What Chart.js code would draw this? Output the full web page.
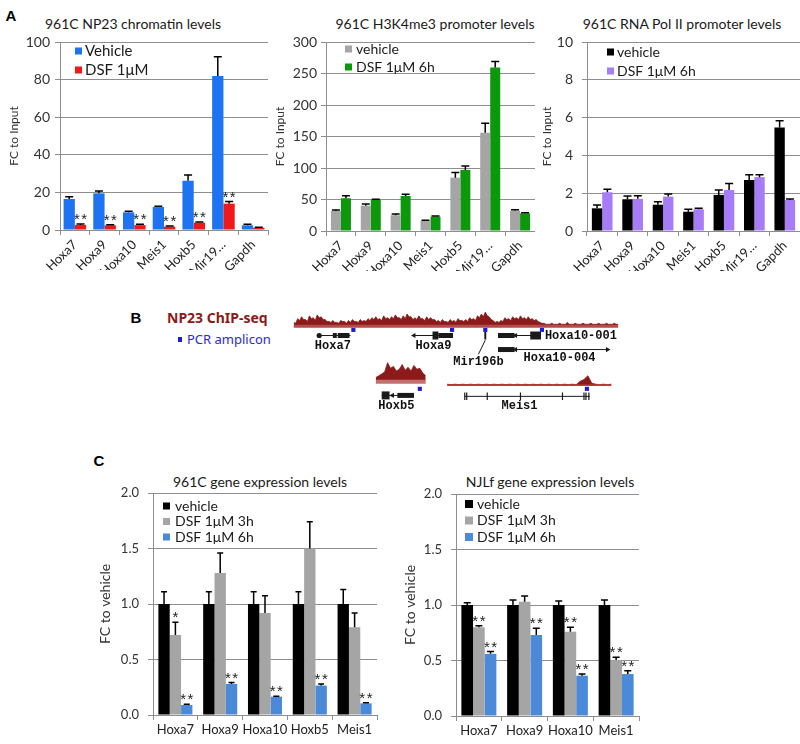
<!DOCTYPE html>
<html><head><meta charset="utf-8">
<script src="https://cdn.jsdelivr.net/npm/chart.js@4.4.1/dist/chart.umd.min.js"></script>
<style>
html,body{margin:0;padding:0;background:#fff;}
#stage{position:relative;width:800px;height:744px;overflow:hidden;font-family:Lato,"Open Sans",sans-serif;}
canvas{position:absolute;}
.t{position:absolute;white-space:nowrap;color:#1a1a1a;line-height:1;transform:translate(-50%,-50%);}
.lab{position:absolute;font:bold 15px "Liberation Sans",Arial,sans-serif;color:#000;line-height:1;transform:translate(-50%,-50%);}
</style></head>
<body><div id="stage">
<div class="lab" style="left:11px;top:15px">A</div>
<div class="lab" style="left:136px;top:317px">B</div>
<div class="lab" style="left:99px;top:460px">C</div>
<div class="t" style="left:133px;top:24px;font-size:14px">961C NP23 chromatin levels</div>
<div class="t" style="left:435px;top:24px;font-size:14px">961C H3K4me3 promoter levels</div>
<div class="t" style="left:682px;top:24px;font-size:14px">961C RNA Pol II promoter levels</div>
<div class="t" style="left:260px;top:482px;font-size:14px">961C gene expression levels</div>
<div class="t" style="left:550px;top:482px;font-size:14px">NJLf gene expression levels</div>
<div style="position:absolute;left:167px;top:309px;font:bold 14px 'Noto Sans',sans-serif;color:#8c1a1a;line-height:18px;white-space:nowrap">NP23 ChIP-seq</div>
<div style="position:absolute;left:178px;top:337px;width:4px;height:5px;background:#1a1ae0"></div>
<div style="position:absolute;left:187px;top:331px;font:13px 'Noto Sans',sans-serif;color:#2a2ad8;line-height:16px;white-space:nowrap">PCR amplicon</div>

<canvas id="a1" width="270" height="270" style="left:0px;top:0px"></canvas>
<canvas id="a2" width="265" height="271" style="left:270px;top:0px"></canvas>
<canvas id="a3" width="265" height="271" style="left:535px;top:0px"></canvas>
<canvas id="b" width="350" height="125" style="left:280px;top:295px"></canvas>
<canvas id="c1" width="285" height="284" style="left:95px;top:460px"></canvas>
<canvas id="c2" width="242" height="284" style="left:400px;top:460px"></canvas>
</div>
<script>
// ================= DATA =================
// Panel A: ChIP-qPCR, fold change to input
const chipGenes = ['Hoxa7','Hoxa9','Hoxa10','Meis1','Hoxb5','Mir19…','Gapdh'];

const np23Vehicle    = [16.5, 19.5, 9.4, 12.2, 26.2, 81.9, 2.5];
const np23VehicleErr = [1.2, 1.2, 0.6, 0.4, 3.1, 10.3, 0.5];
const np23Dsf        = [2.7, 2.5, 2.6, 1.8, 3.9, 14.0, 1.2];
const np23DsfErr     = [0.5, 0.3, 0.5, 0.3, 0.4, 1.1, 0.2];
const np23DsfSig     = ['**','**','**','**','**','**',''];

const k4Vehicle    = [31.8, 40.2, 25.0, 15.9, 84.7, 156.0, 32.3];
const k4VehicleErr = [1.6, 2.8, 2.0, 1.0, 8.0, 15.0, 1.6];
const k4Dsf        = [52.0, 49.3, 55.6, 22.7, 97.0, 259.6, 28.0];
const k4DsfErr     = [4.0, 1.1, 2.7, 1.1, 6.0, 9.5, 1.0];

const polVehicle    = [1.20, 1.68, 1.39, 1.02, 1.91, 2.70, 5.47];
const polVehicleErr = [0.17, 0.17, 0.16, 0.13, 0.26, 0.27, 0.36];
const polDsf        = [2.05, 1.70, 1.82, 1.15, 2.17, 2.85, 1.64];
const polDsfErr     = [0.16, 0.17, 0.14, 0.05, 0.34, 0.12, 0.05];

// Panel C: gene expression, fold change to vehicle
const genes961 = ['Hoxa7','Hoxa9','Hoxa10','Hoxb5','Meis1'];
const c961Vehicle    = [1, 1, 1, 1, 1];
const c961VehicleErr = [0.11, 0.11, 0.11, 0.11, 0.13];
const c961Dsf3h      = [0.72, 1.28, 0.92, 1.50, 0.79];
const c961Dsf3hErr   = [0.115, 0.18, 0.155, 0.24, 0.13];
const c961Dsf3hSig   = ['*','','','',''];
const c961Dsf6h      = [0.09, 0.28, 0.165, 0.265, 0.105];
const c961Dsf6hErr   = [0.006, 0.012, 0.005, 0.015, 0.005];
const c961Dsf6hSig   = ['**','**','**','**','**'];

const genesNJL = ['Hoxa7','Hoxa9','Hoxa10','Meis1'];
const njlVehicle    = [1, 1, 1, 1];
const njlVehicleErr = [0.02, 0.045, 0.036, 0.045];
const njlDsf3h      = [0.80, 1.03, 0.76, 0.505];
const njlDsf3hErr   = [0.012, 0.05, 0.04, 0.024];
const njlDsf3hSig   = ['**','','**','**'];
const njlDsf6h      = [0.56, 0.73, 0.363, 0.378];
const njlDsf6hErr   = [0.02, 0.06, 0.015, 0.03];
const njlDsf6hSig   = ['**','**','**','**'];

// Panel B: NP23 ChIP-seq signal (a.u.) along each locus, and gene models (locus coordinates)
const hoxaSignal = [
  3,2, 7,5, 9,6, 6,4, 10,7, 8,5, 11,8, 9,6, 6,4, 4,3,
  5,3, 3,2, 5,4, 4,2, 5,3, 6,4, 4,3, 6,4, 5,4, 7,5,
  8,6, 9,6, 7,5, 10,7, 8,6, 9,7, 11,8, 8,6, 10,7, 12,9,
  9,6, 8,6, 10,7, 7,5, 9,6, 8,6, 6,4, 5,3, 6,4, 4,3,
  6,4, 5,3, 7,5, 5,4, 6,4, 8,6, 7,5, 10,8, 12,9, 14,10,
  9,6, 5,3, 4,3, 5,4, 8,6, 7,5, 9,7, 8,6, 10,7, 8,6,
  9,6, 7,5, 6,4, 3,2, 2,1, 1,1, 2,1, 1,1, 2,1, 1,1,
  3,1, 1,1, 2,1, 1,1, 2,1, 1,1, 2,1, 1,1, 2,1, 1,1,
  2,1, 1,1, 2,1, 1];
const hoxbSignal = [3,5,7,9,19,13,15,10,12,17,11,14,10,16,12,13,8,5];
const meisSignal = [1,0.5,1,0.5,1,0.5,1,0.5,1,0.5, 1,0.5,1,0.5,1,0.5,1,0.5,1,0.5,
  1,0.5,1,0.5,1,0.5,1,0.5,1,0.5, 1,0.5,1,0.5,4,6,10,2,1,0.5, 1,0.5,1];
const hoxaAmplicons = [61, 162, 196, 254];
const hoxbAmplicons = [45];
const meisAmplicons = [143];
const hoxaGenes = [
  {name:'Hoxa7',      row:0, span:[26,58],  exons:[[40,44],[45,57]], tall:[],        dot:26},
  {name:'Hoxa9',      row:0, span:[123,163],exons:[[148,163]],       tall:[[142,148]], left:[123]},
  {name:'Mir196b',    row:0, span:null,     exons:[],                tall:[[195,197]]},
  {name:'Hoxa10-001', row:0, span:[209,253],exons:[[209,226]],       tall:[[242,253]], left:[227]},
  {name:'Hoxa10-004', row:1, span:[209,323],exons:[[209,226]],       tall:[],          left:[227], right:[321]}
];
const hoxbGenes = [
  {name:'Hoxb5', row:0, span:[6,39], exons:[[22,39]], tall:[[6,14]], left:[17]}
];
const meisGenes = [
  {name:'Meis1', row:0, span:[18,146], exons:[], tall:[], ticks:[18,20,41,75,118,140,142,145]}
];

// ================= STYLE / LAYOUT =================
Chart.defaults.font.family = 'Lato, "Open Sans", sans-serif';
Chart.defaults.color = '#333';
const AXIS = '#8e8e8e';

const annot = {
  id: 'annot',
  afterDatasetsDraw(chart, args, o) {
    const ctx = chart.ctx, ys = chart.scales.y, ca = chart.chartArea;
    chart.data.datasets.forEach((ds, di) => {
      const meta = chart.getDatasetMeta(di);
      meta.data.forEach((bar, i) => {
        const v = ds.data[i], e = ds.errors ? ds.errors[i] : 0;
        const top = ys.getPixelForValue(v + e);
        if (e > 0) {
          ctx.save(); ctx.strokeStyle = '#000'; ctx.lineWidth = o.errWidth;
          ctx.beginPath(); ctx.moveTo(bar.x, bar.y); ctx.lineTo(bar.x, top);
          ctx.moveTo(bar.x - o.cap / 2, top); ctx.lineTo(bar.x + o.cap / 2, top);
          ctx.stroke(); ctx.restore();
        }
        const s = ds.sig && ds.sig[i];
        if (s) {
          ctx.save(); ctx.font = o.starFont; ctx.fillStyle = '#222';
          ctx.textAlign = 'center'; ctx.textBaseline = 'alphabetic';
          ctx.letterSpacing = '1.5px';
          ctx.fillText(s, bar.x + 0.75, top + o.starDy); ctx.restore();
        }
      });
    });
    const L = o.legend;
    ctx.save();
    chart.data.datasets.forEach((ds, di) => {
      const ly = ca.top + L.y0 + di * L.dy, lx = ca.left + L.x0;
      ctx.fillStyle = ds.backgroundColor;
      ctx.fillRect(lx, ly - L.box / 2, L.box, L.box);
      ctx.fillStyle = '#1a1a1a'; ctx.font = L.font;
      ctx.textBaseline = 'middle'; ctx.textAlign = 'left';
      ctx.fillText(ds.label, lx + L.box + L.gap, ly);
    });
    ctx.restore();
  }
};

function barChart(id, c) {
  return new Chart(document.getElementById(id), {
    type: 'bar',
    data: {
      labels: c.labels,
      datasets: c.series.map(s => ({
        label: s.label, data: s.data, errors: s.err, sig: s.sig || null,
        backgroundColor: s.color, borderWidth: 0,
        categoryPercentage: c.catPct, barPercentage: 1
      }))
    },
    options: {
      responsive: false, animation: false,
      layout: { padding: c.padding },
      plugins: {
        legend: { display: false }, tooltip: { enabled: false },
        annot: { cap: c.cap, errWidth: 1.5, starFont: c.starFont, starDy: 0, legend: c.legend }
      },
      scales: {
        x: {
          grid: { drawOnChartArea: false, offset: true, color: AXIS, tickLength: 5 },
          border: { color: AXIS },
          ticks: { font: { size: c.xFont }, color: '#222', maxRotation: c.rot, minRotation: c.rot, autoSkip: false, padding: 2 },
          afterFit(s) { s.height = c.xh; }
        },
        y: {
          min: 0, max: c.max,
          ticks: { stepSize: c.step, font: { size: c.yFont }, color: '#333', padding: c.tickPad,
                   callback: v => c.dec ? Number(v).toFixed(c.dec) : v },
          grid: { color: AXIS, tickLength: 5 },
          border: { color: AXIS },
          title: { display: true, text: c.ytitle, font: { size: c.yTitleFont }, color: '#333', padding: { top: c.titlePad, bottom: 0 } },
          afterFit(s) { s.width = c.yw; }
        }
      }
    },
    plugins: [annot]
  });
}

const STAR_A = '15px "Liberation Sans", Arial, sans-serif';
const STAR_C = '15px "Liberation Sans", Arial, sans-serif';

barChart('a1', {
  labels: chipGenes, max: 100, step: 20, ytitle: 'FC to Input', catPct: 0.76, rot: 45,
  series: [
    { label: 'Vehicle', data: np23Vehicle, err: np23VehicleErr, color: '#1e73f2' },
    { label: 'DSF 1μM', data: np23Dsf, err: np23DsfErr, sig: np23DsfSig, color: '#f01818' }
  ],
  padding: { top: 42, left: 0, right: 2, bottom: 0 }, yw: 60, xh: 40,
  xFont: 13, yFont: 14, yTitleFont: 12, titlePad: 7, tickPad: 5, cap: 8, starFont: STAR_A,
  legend: { x0: 15, y0: 9, dy: 19, box: 7, gap: 3, font: '15px Lato' }
});
barChart('a2', {
  labels: chipGenes, max: 300, step: 50, ytitle: 'FC to Input', catPct: 0.67, rot: 45,
  series: [
    { label: 'vehicle', data: k4Vehicle, err: k4VehicleErr, color: '#a5a5a5' },
    { label: 'DSF 1μM 6h', data: k4Dsf, err: k4DsfErr, color: '#0b980b' }
  ],
  padding: { top: 42, left: 0, right: 0, bottom: 0 }, yw: 56, xh: 40,
  xFont: 13, yFont: 14, yTitleFont: 12, titlePad: 3, tickPad: 4, cap: 8, starFont: STAR_A,
  legend: { x0: 19, y0: 7, dy: 18, box: 7, gap: 4, font: '14px Lato' }
});
barChart('a3', {
  labels: chipGenes, max: 10, step: 2, ytitle: 'FC to Input', catPct: 0.68, rot: 45,
  series: [
    { label: 'vehicle', data: polVehicle, err: polVehicleErr, color: '#000000' },
    { label: 'DSF 1μM 6h', data: polDsf, err: polDsfErr, color: '#a67cf7' }
  ],
  padding: { top: 42, left: 0, right: 0, bottom: 0 }, yw: 52, xh: 40,
  xFont: 13, yFont: 14, yTitleFont: 12, titlePad: 5, tickPad: 9, cap: 8, starFont: STAR_A,
  legend: { x0: 20, y0: 10, dy: 19, box: 7, gap: 3, font: '14px Lato' }
});
barChart('c1', {
  labels: genes961, max: 2, step: 0.5, dec: 1, ytitle: 'FC to vehicle', catPct: 0.76, rot: 0,
  series: [
    { label: 'vehicle', data: c961Vehicle, err: c961VehicleErr, color: '#000000' },
    { label: 'DSF 1μM 3h', data: c961Dsf3h, err: c961Dsf3hErr, sig: c961Dsf3hSig, color: '#a5a5a5' },
    { label: 'DSF 1μM 6h', data: c961Dsf6h, err: c961Dsf6hErr, sig: c961Dsf6hSig, color: '#4a8ad8' }
  ],
  padding: { top: 33, left: 0, right: 3, bottom: 0 }, yw: 58, xh: 29,
  xFont: 13, yFont: 13, yTitleFont: 14, titlePad: 2, tickPad: 9, cap: 6, starFont: STAR_C,
  legend: { x0: 10, y0: 13, dy: 15.5, box: 7, gap: 5, font: '14px Lato' }
});
barChart('c2', {
  labels: genesNJL, max: 2, step: 0.5, dec: 1, ytitle: 'FC to vehicle', catPct: 0.765, rot: 0,
  series: [
    { label: 'vehicle', data: njlVehicle, err: njlVehicleErr, color: '#000000' },
    { label: 'DSF 1μM 3h', data: njlDsf3h, err: njlDsf3hErr, sig: njlDsf3hSig, color: '#a5a5a5' },
    { label: 'DSF 1μM 6h', data: njlDsf6h, err: njlDsf6hErr, sig: njlDsf6hSig, color: '#4a8ad8' }
  ],
  padding: { top: 34, left: 0, right: 3, bottom: 0 }, yw: 56, xh: 28,
  xFont: 13, yFont: 13, yTitleFont: 14, titlePad: 2, tickPad: 9, cap: 7, starFont: STAR_C,
  legend: { x0: 9, y0: 10, dy: 16.5, box: 8, gap: 4, font: '14px Lato' }
});

// ================= PANEL B (genome browser view) =================
const B_LAYOUT = {
  hoxa: { x0: 290, base: 323, ampY: 328, rows: [334, 349], step: 2, len: 332, band: 3, bandColor: '#b44a4a' },
  hoxb: { x0: 374, base: 382, ampY: 391, rows: [398], step: 3, len: 51, band: 4, bandColor: '#c27070' },
  meis: { x0: 447, base: 387, ampY: 391, rows: [399], step: 4, len: 168, band: 1.5, bandColor: '#c43b3b' }
};
const B_LABELS = [
  { locus: 'hoxa', row: 0, text: 'Hoxa7', x: 40, dy: 11, align: 'center' },
  { locus: 'hoxa', row: 0, text: 'Hoxa9', x: 143, dy: 11, align: 'center' },
  { locus: 'hoxa', row: 0, text: 'Mir196b', x: 189, dy: 28, align: 'center' },
  { locus: 'hoxa', row: 0, text: 'Hoxa10-001', x: 257, dy: 1, align: 'left' },
  { locus: 'hoxa', row: 1, text: 'Hoxa10-004', x: 272, dy: 9, align: 'center' },
  { locus: 'hoxb', row: 0, text: 'Hoxb5', x: 21, dy: 11, align: 'center' },
  { locus: 'meis', row: 0, text: 'Meis1', x: 74, dy: 10, align: 'center' }
];
const FILL = '#8c1a1a', INK = '#1a1a1a', AMP = '#1a1ae0';

function seg(x1, y1, x2, y2, w, color) {
  return { data: [{ x: x1, y: y1 }, { x: x2, y: y2 }], showLine: true, borderColor: color,
           borderWidth: w, pointRadius: 0, borderCapStyle: 'butt', fill: false, clip: false };
}
function bDatasets() {
  const out = [];
  const loci = [
    ['hoxa', hoxaSignal, hoxaAmplicons, hoxaGenes],
    ['hoxb', hoxbSignal, hoxbAmplicons, hoxbGenes],
    ['meis', meisSignal, meisAmplicons, meisGenes]
  ];
  loci.forEach(([key, sig, amps, genes]) => {
    const L = B_LAYOUT[key];
    out.push(seg(L.x0, L.base + L.band / 2 - 0.5, L.x0 + L.len, L.base + L.band / 2 - 0.5, L.band, L.bandColor));
    out.push({ data: sig.map((h, i) => ({ x: L.x0 + i * L.step, y: L.base - h })), showLine: true,
               fill: { value: L.base }, backgroundColor: FILL, borderColor: FILL, borderWidth: 0.8,
               pointRadius: 0, tension: 0, clip: false });
    out.push({ data: amps.map(a => ({ x: L.x0 + a, y: L.ampY })), showLine: false,
               pointStyle: 'rect', pointRadius: 2.9, backgroundColor: AMP, borderWidth: 0 });
    genes.forEach(g => {
      const y = L.rows[g.row];
      if (g.span) out.push(seg(L.x0 + g.span[0], y, L.x0 + g.span[1], y, 1, INK));
      (g.exons || []).forEach(e => out.push(seg(L.x0 + e[0], y, L.x0 + e[1], y, 5, INK)));
      (g.tall || []).forEach(e => out.push(seg(L.x0 + e[0], y, L.x0 + e[1], y, 8, INK)));
      (g.ticks || []).forEach(t => out.push(seg(L.x0 + t, y - 4, L.x0 + t, y + 4, 1.2, INK)));
      if (g.dot !== undefined) out.push({ data: [{ x: L.x0 + g.dot, y }], pointRadius: 2.6, backgroundColor: INK, borderWidth: 0 });
      (g.left || []).forEach(a => out.push({ data: [{ x: L.x0 + a, y }], pointStyle: 'triangle', rotation: -90, pointRadius: 3, backgroundColor: INK, borderWidth: 0 }));
      (g.right || []).forEach(a => out.push({ data: [{ x: L.x0 + a, y }], pointStyle: 'triangle', rotation: 90, pointRadius: 3, backgroundColor: INK, borderWidth: 0 }));
      if (g.name === 'Mir196b') {
        const lb = B_LABELS.find(l => l.text === 'Mir196b');
        out.push(seg(L.x0 + g.tall[0][0] + 1, y + 5, L.x0 + lb.x, y + lb.dy - 8, 1, INK));
      }
    });
  });
  return out;
}
const geneLabels = {
  id: 'geneLabels',
  afterDatasetsDraw(chart) {
    const { ctx, scales: { x, y } } = chart;
    ctx.save();
    ctx.font = 'bold 12px "Liberation Mono", "DejaVu Sans Mono", monospace';
    ctx.fillStyle = '#111'; ctx.textBaseline = 'middle';
    B_LABELS.forEach(l => {
      const L = B_LAYOUT[l.locus];
      ctx.textAlign = l.align;
      ctx.fillText(l.text, x.getPixelForValue(L.x0 + l.x), y.getPixelForValue(L.rows[l.row] + l.dy));
    });
    ctx.restore();
  }
};
new Chart(document.getElementById('b'), {
  type: 'scatter',
  data: { datasets: bDatasets() },
  options: {
    responsive: false, animation: false,
    layout: { padding: 0 },
    plugins: { legend: { display: false }, tooltip: { enabled: false } },
    scales: {
      x: { type: 'linear', min: 280, max: 630, display: false },
      y: { type: 'linear', min: 295, max: 420, reverse: true, display: false }
    }
  },
  plugins: [geneLabels]
});
</script>
</body></html>
